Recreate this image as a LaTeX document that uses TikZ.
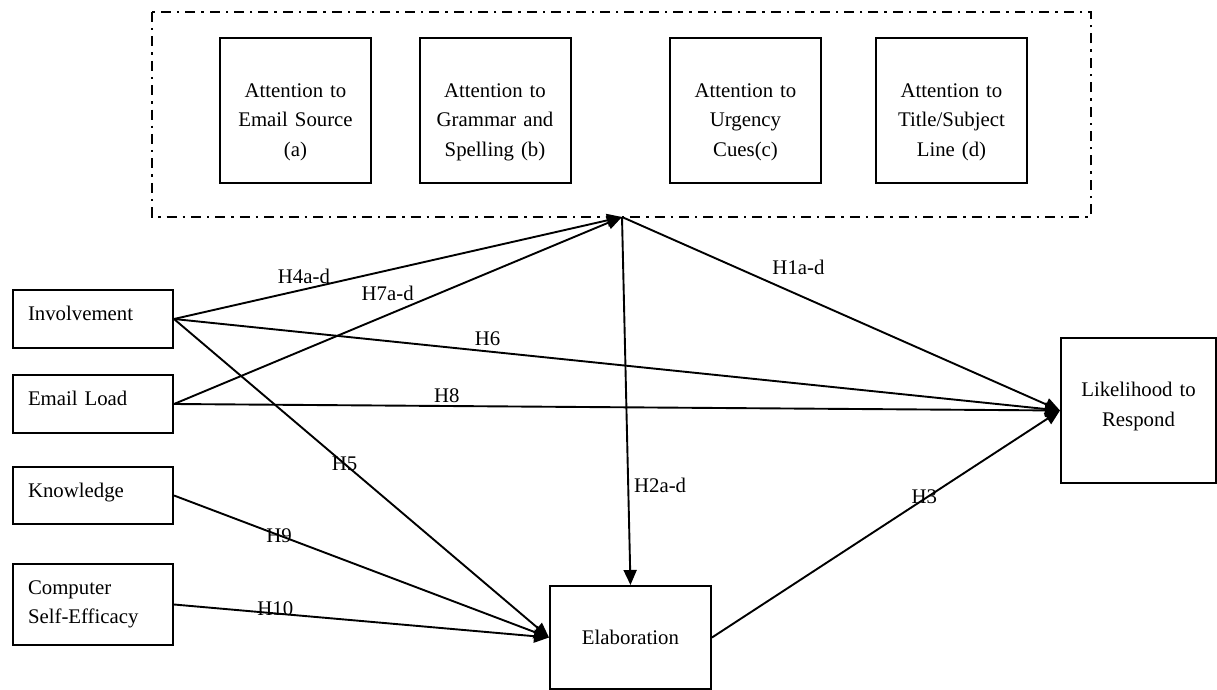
\documentclass[tikz,border=0pt]{standalone}
\usepackage{fontspec}
\setmainfont{Liberation Serif}
\usetikzlibrary{arrows.meta}

\begin{document}
\begin{tikzpicture}[x=0.5pt, y=-0.5pt,
    font=\fontsize{10.4pt}{14.7pt}\selectfont,
    cue/.style={draw, line width=1pt, minimum width=75.5pt, minimum height=72.5pt,
      text width=70pt, align=center, inner sep=0pt, text height=19pt, text depth=32pt},
    factor/.style={draw, line width=1pt, anchor=north west, text width=65pt,
      align=left, inner xsep=7.5pt, inner ysep=0pt, minimum height=29pt},
    oneline/.style={text height=7.5pt, text depth=6pt},
    outcome/.style={draw, line width=1pt, align=center, inner sep=0pt},
    arr/.style={line width=0.95pt, -{Triangle[length=7.5pt,width=6.5pt]}},
    hyp/.style={inner sep=2.5pt}]
  \useasboundingbox (0,0) rectangle (1217,690);
  %cues frame
  \draw[line width=1.1pt, dash pattern=on 5pt off 3pt on 1.2pt off 3pt] (152,12) rectangle (1091,217);
  \node[cue] (srce) at (295.5,110.5) {Attention to\\Email Source\\(a)};
  \node[cue] (gram) at (495,110.5) {Attention to\\Grammar and\\Spelling (b)};
  \node[cue] (urgc) at (745.5,110.5) {Attention to\\Urgency\\Cues(c)};
  \node[cue] (titl) at (951.5,110.5) {Attention to\\Title/Subject\\Line (d)};
  \coordinate (hub) at (622,217);
  %left factors
  \node[factor, oneline] (inv) at (12,289) {Involvement};
  \node[factor, oneline] (load) at (12,374) {Email Load};
  \node[factor, oneline, minimum height=28.5pt] (know) at (12,466) {Knowledge};
  \node[factor, minimum height=40.5pt] (cse) at (12,563) {Computer\\Self-Efficacy};
  %outcomes
  \node[outcome, minimum width=80.5pt, minimum height=51.5pt] (elab) at (630.5,637.5) {Elaboration};
  \node[outcome, minimum width=77.5pt, minimum height=72.5pt, text width=75pt,
    text height=7.3pt, text depth=21pt] (resp) at (1138.5,410.5) {Likelihood to\\Respond};
  %arrows
  \draw[arr] (inv.east) -- node[hyp, pos=0.29, above] (h4) {H4a-d} (hub);
  \draw[arr] (load.east) -- node[hyp, pos=0.477, above, yshift=4pt] (h7) {H7a-d} (hub);
  \draw[arr] (hub) -- node[hyp, pos=0.33, above right] (h1) {H1a-d} (resp.west);
  \draw[arr] (inv.east) -- node[hyp, pos=0.354, above] (h6) {H6} (resp.west);
  \draw[arr] (load.east) -- node[hyp, pos=0.308, above, inner sep=1pt] (h8) {H8} (resp.west);
  \draw[arr] (inv.east) -- node[hyp, pos=0.455] (h5) {H5} (elab.west);
  \draw[arr] (know.east) -- node[hyp, pos=0.28] (h9) {H9} (elab.west);
  \draw[arr] (cse.east) -- node[hyp, pos=0.27, yshift=2.5pt] (h10) {H10} (elab.west);
  \draw[arr] (hub) -- node[hyp, pos=0.73, right] (h2) {H2a-d} (elab.north);
  \draw[arr] (elab.east) -- node[hyp, pos=0.61, yshift=1pt] (h3) {H3} (resp.west);
\end{tikzpicture}
\end{document}
